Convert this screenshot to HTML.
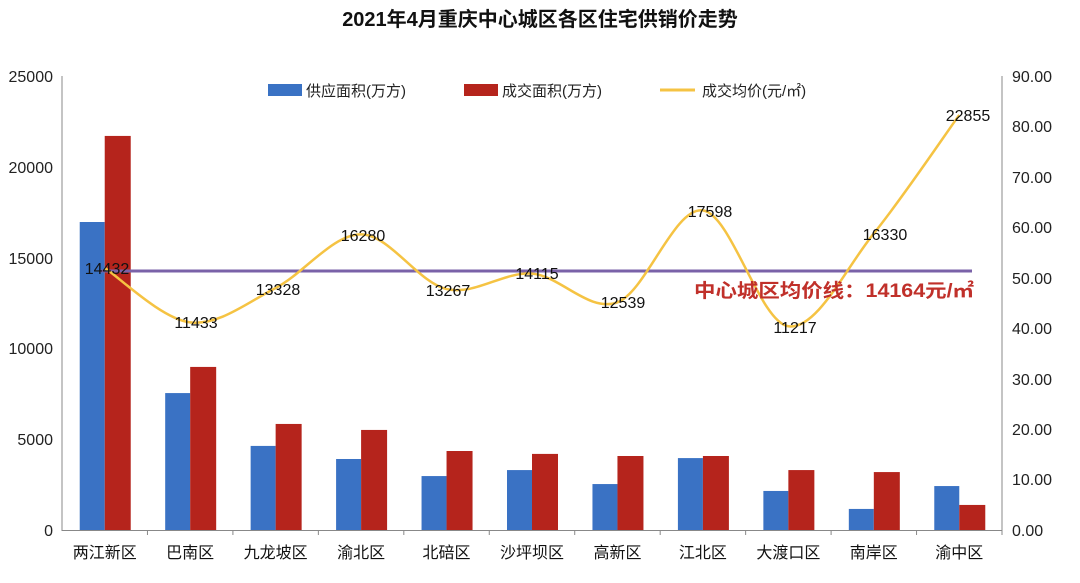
<!DOCTYPE html>
<html><head><meta charset="utf-8"><style>
body{margin:0;background:#fff;}
svg text{font-family:"Liberation Sans","Noto Sans CJK SC",sans-serif;}
</style></head><body>
<svg id="s" width="1080" height="578" viewBox="0 0 1080 578" xmlns="http://www.w3.org/2000/svg">
<text x="540" y="26" text-anchor="middle" font-size="20" font-weight="bold" fill="#111">2021年4月重庆中心城区各区住宅供销价走势</text>
<g font-size="16" fill="#222" text-anchor="end">
<text x="53" y="82">25000</text><text x="53" y="173">20000</text><text x="53" y="264">15000</text><text x="53" y="354">10000</text><text x="53" y="445">5000</text><text x="53" y="536">0</text>
</g>
<g font-size="16" fill="#222" text-anchor="start">
<text x="1012" y="82">90.00</text><text x="1012" y="132">80.00</text><text x="1012" y="183">70.00</text><text x="1012" y="233">60.00</text><text x="1012" y="284">50.00</text><text x="1012" y="334">40.00</text><text x="1012" y="385">30.00</text><text x="1012" y="435">20.00</text><text x="1012" y="485">10.00</text><text x="1012" y="536">0.00</text>
</g>
<g stroke="#888" stroke-width="1">
<line x1="62" y1="76" x2="62" y2="531"/><line x1="1002" y1="76" x2="1002" y2="531"/><line x1="62" y1="530.5" x2="1002" y2="530.5"/>
</g>
<g id="bars"></g>
<g id="ticks" stroke="#888"></g>
<line x1="100" y1="271" x2="972" y2="271" stroke="#7a62a8" stroke-width="3"/>
<path id="ln" fill="none" stroke="#f5c343" stroke-width="2.5"/>
<g font-size="16" fill="#111" text-anchor="middle">
<text x="107" y="274">14432</text><text x="196" y="328">11433</text><text x="278" y="295">13328</text><text x="363" y="241">16280</text><text x="448" y="296">13267</text><text x="537" y="279">14115</text><text x="623" y="308">12539</text><text x="710" y="217">17598</text><text x="795" y="333">11217</text><text x="885" y="240">16330</text><text x="968" y="121">22855</text>
</g>
<text x="694" y="297" font-size="19" font-weight="bold" fill="#c0302a" textLength="280" lengthAdjust="spacingAndGlyphs">中心城区均价线：14164元/㎡</text>
<rect x="268" y="84" width="34" height="12" fill="#3a72c4"/><text x="306" y="96" font-size="15" fill="#222">供应面积(万方)</text>
<rect x="464" y="84" width="34" height="12" fill="#b5241c"/><text x="502" y="96" font-size="15" fill="#222">成交面积(万方)</text>
<line x1="660" y1="90" x2="695" y2="90" stroke="#f5c343" stroke-width="3"/><text x="702" y="96" font-size="15" fill="#222">成交均价(元/㎡)</text>
<g id="cats" font-size="16" fill="#111" text-anchor="middle"></g>
</svg>
<script>
var names=["两江新区","巴南区","九龙坡区","渝北区","北碚区","沙坪坝区","高新区","江北区","大渡口区","南岸区","渝中区"];
var sup=[16960,7540,4630,3910,2970,3300,2530,3960,2150,1160,2420];
var deal=[21700,8980,5840,5510,4350,4190,4075,4075,3300,3190,1380];
var pr=[14432,11433,13328,16280,13267,14115,12539,17598,11217,16330,22855];
var ns="http://www.w3.org/2000/svg";
function Y(v){return 530-v*454/25000;}
var bars=document.getElementById("bars"),cats=document.getElementById("cats"),tk=document.getElementById("ticks");
var w=940/11,pts=[];
for(var i=0;i<11;i++){var c=62+w*(i+0.5);
 var r=document.createElementNS(ns,"rect");r.setAttribute("x",c-25);r.setAttribute("width",25);r.setAttribute("y",Y(sup[i]));r.setAttribute("height",530-Y(sup[i]));r.setAttribute("fill","#3a72c4");bars.appendChild(r);
 r=document.createElementNS(ns,"rect");r.setAttribute("x",c);r.setAttribute("width",26);r.setAttribute("y",Y(deal[i]));r.setAttribute("height",530-Y(deal[i]));r.setAttribute("fill","#b5241c");bars.appendChild(r);
 var t=document.createElementNS(ns,"text");t.setAttribute("x",c);t.setAttribute("y",558);t.textContent=names[i];cats.appendChild(t);
 var l=document.createElementNS(ns,"line");var tx=62+w*(i+1);l.setAttribute("x1",tx);l.setAttribute("x2",tx);l.setAttribute("y1",530);l.setAttribute("y2",535);tk.appendChild(l);
 pts.push([c,Y(pr[i])]);}
var d="M"+pts[0][0]+","+pts[0][1];
for(var i=0;i<10;i++){var p0=pts[Math.max(0,i-1)],p1=pts[i],p2=pts[i+1],p3=pts[Math.min(10,i+2)];
 var k=1/6;
 d+=" C"+(p1[0]+(p2[0]-p0[0])*k)+","+(p1[1]+(p2[1]-p0[1])*k)+" "+(p2[0]-(p3[0]-p1[0])*k)+","+(p2[1]-(p3[1]-p1[1])*k)+" "+p2[0]+","+p2[1];}
document.getElementById("ln").setAttribute("d",d);
</script>
</body></html>
